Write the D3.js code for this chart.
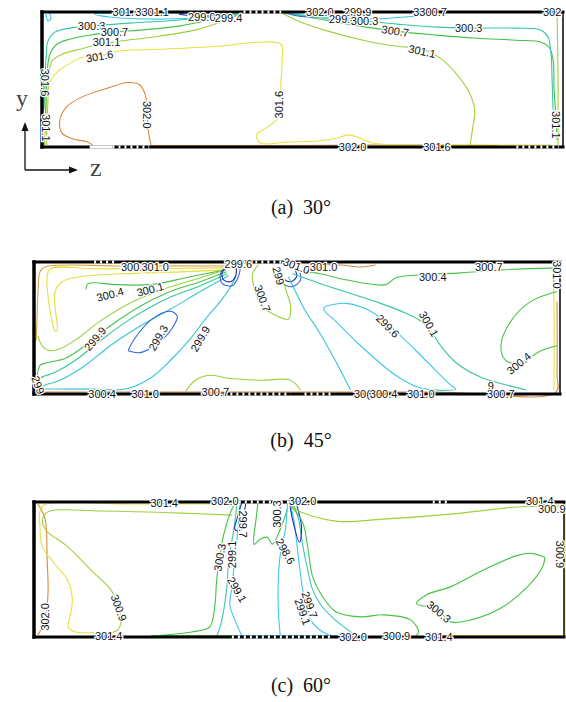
<!DOCTYPE html>
<html>
<head>
<meta charset="utf-8">
<script src="https://cdn.jsdelivr.net/npm/d3@7"></script>
<style>
  body { margin: 0; background: #fff; }
  svg { display: block; }
</style>
</head>
<body>
<svg id="chart" width="566" height="702"></svg>
<script>
// contour lines: [level, [[z, y], ...]]
const contoursA = [
  [302.0, [[53,0],[46,5],[31,8],[20,14],[18,27],[25,40],[41,50],[68,59],[86,64],[98,62],[104,52],[106,37],[107,17],[110,1]]],
  [302.0, [[110,1.5],[250,1.5],[330,2],[460,1.5]]],
  [301.6, [[5,2],[4,27],[5,52],[8,65],[16,75],[28,83],[41,89],[58,90],[76,95],[118,97],[178,100],[218,104],[241,102],[242,87],[241,67],[240,47],[238,29],[226,19],[216,12],[220,4],[248,5],[278,6],[298,9],[308,12],[320,9],[333,4],[358,2],[428,2],[513,2]]],
  [301.1, [[201,132],[183,125],[158,117],[118,110],[78,105],[58,102],[38,97],[20,92],[10,85],[7,72],[6,47],[5,19],[4,2]]],
  [301.1, [[242,133],[258,125],[288,115],[328,105],[358,100],[383,97],[403,87],[418,72],[430,55],[436,37],[434,19],[431,0]]],
  [301.1, [[519,133],[520,70],[520,2]]],
  [300.7, [[201,133],[178,128],[138,120],[98,116],[73,114],[48,111],[28,107],[15,102],[8,92],[5,72],[4,47],[3,17],[2,1]]],
  [300.7, [[242,134],[268,129],[308,122],[356,115],[398,111],[438,108],[478,106],[503,104],[511,99],[515,87],[516,57],[518,29],[519,7]]],
  [300.3, [[201,134],[178,131],[138,126],[88,123],[50,120],[28,118],[13,114],[6,105],[4,87],[3,62],[2,37]]],
  [300.3, [[242,134],[268,130],[298,126],[325,125],[358,122],[398,119],[430,118],[478,118],[503,116],[510,109],[513,92],[514,67],[515,37]]],
  [299.9, [[198,131],[158,128],[108,127],[68,129],[53,132],[78,133],[128,133],[188,133]]],
  [299.9, [[4,132],[6,125],[9,128],[7,134]]],
  [299.0, [[193,132],[158,130],[138,132],[158,134]]],
  [299.4, [[242,134],[258,130],[288,129],[268,132]]],
  [299.9, [[242,134],[278,129],[328,127],[378,130],[408,133]]]
];
const labelsA = [
  ["301.6",85,134,0],["3301.1",111,134,0],["299.0",161,129,0],["299.4",188,128,0],
  ["300.3",50,120,0],["300.7",73,114,0],["301.1",65,104,0],["301.6",58,90,-10],
  ["301.6",3,64,90],["301.1",4,19,90],["302.0",106,32,90],["301.6",239,42,-90],
  ["302.0",280,134,0],["299.9",318,134,0],["299.4",303,127,0],["300.3",325,125,0],
  ["300.7",356,115,8],["3300.7",391,134,0],["300.3",430,118,0],["301.1",383,95,12],
  ["302",514,134,0],["302.0",313,0,0],["301.6",398,0,0],["301.1",518,22,90]
];

const contoursB = [
  [301.4, [[191,130],[86,130],[11,129],[6,124],[4,104],[3,74],[2,54]]],
  [302.0, [[4,2],[200,2],[400,2],[521,2],[522,20],[522,94]]],
  [302.0, [[276,131],[306,131],[326,129],[341,131]]],
  [301.0, [[191,128],[66,127],[16,127],[13,119],[14,99],[17,79],[21,64],[23,64],[21,89],[21,104],[28,114],[46,119],[86,122],[146,124],[191,126]]],
  [301.0, [[518,129],[519,94],[519,4]]],
  [300.4, [[191,126],[156,119],[116,111],[83,111],[54,112],[52,106]]],
  [300.7, [[191,126],[166,118],[131,107],[99,94],[66,74],[43,56],[26,46],[16,44],[8,49],[4,59]]],
  [300.4, [[192,124],[166,114],[136,104],[106,89],[76,69],[51,49],[31,36],[14,32],[6,29],[3,14]]],
  [300.1, [[193,122],[166,110],[131,96],[96,76],[66,54],[41,34],[21,22],[6,16],[2,9]]],
  [299.9, [[194,120],[166,104],[136,86],[106,69],[76,49],[51,29],[26,14],[11,9],[6,6],[26,5],[56,5],[91,5],[116,16],[136,34],[156,56],[171,76],[186,94],[198,112],[201,119]]],
  [299.3, [[94,44],[99,54],[119,77],[136,84],[143,79],[138,67],[123,51],[106,42],[94,44]]],
  [299.3, [[192,129],[186,122],[188,112],[198,110],[204,119],[206,128]]],
  [298.6, [[194,129],[188,124],[189,116],[196,114],[201,119],[202,128]]],
  [299.3, [[244,128],[246,114],[258,109],[266,116],[264,128]]],
  [298.6, [[246,128],[248,118],[256,114],[262,119],[260,128]]],
  [300.7, [[224,131],[218,122],[221,104],[228,89],[241,80],[254,76],[256,89],[252,104],[247,119],[242,128]]],
  [300.7, [[151,2],[161,14],[176,19],[194,16],[226,14],[256,14],[266,4]]],
  [299.9, [[254,119],[261,104],[271,84],[284,64],[298,39],[311,14],[316,4]]],
  [299.6, [[291,89],[311,92],[336,84],[366,59],[391,34],[416,9],[421,5],[386,6],[361,19],[326,49],[301,74],[289,86],[291,89]]],
  [300.1, [[258,122],[286,112],[316,102],[346,92],[371,82],[386,74],[396,64],[406,49],[421,32],[446,17],[476,8],[491,4]]],
  [300.4, [[261,126],[286,122],[311,116],[351,111],[361,118],[386,121],[426,123],[466,126],[521,128]]],
  [300.4, [[522,104],[496,94],[476,74],[466,49],[471,34],[486,32],[506,44],[522,49]]]
];
const labelsB = [
  ["300.,",99,129,0],["301.0",121,129,0],["299.6",204,132,0],["301.0",262,130,20],
  ["299",244,120,75],["301.0",289,129,0],["300.4",76,101,-15],["300.1",116,106,-15],
  ["299.9",61,56,-50],["299.3",124,57,-60],["299.9",166,56,-60],["300.7",228,97,70],
  ["299.6",353,69,45],["300.1",394,71,60],["300.4",398,119,0],["300.7",454,129,0],
  ["301.0",522,121,90],["300.4",484,31,-40],["300.4",68,0,0],["301.0",111,0,0],
  ["300.7",181,2,0],["30(300.4",341,0,0],["301.0",386,0,0],["9",456,8,0],
  ["300.7",466,0,0],["299",4,9,70]
];

const contoursC = [
  [302.0, [[4,132],[11,117],[13,77],[14,47],[13,32],[9,12],[4,2]]],
  [301.4, [[190,132],[100,132],[10,131],[6,125],[6,107],[8,90],[21,72],[33,57],[38,37],[36,22],[34,10],[41,5],[66,4],[76,1]]],
  [300.9, [[196,121],[146,123],[66,125],[16,125],[9,119],[11,107],[33,90],[59,64],[76,47],[84,29],[86,14],[83,7],[71,3]]],
  [300.3, [[198,131],[194,122],[188,102],[184,79],[181,57],[179,30],[174,10],[156,5],[116,1]]],
  [299.7, [[201,132],[198,107],[193,77],[191,49],[188,27],[184,9],[181,1]]],
  [299.1, [[204,131],[202,107],[199,77],[196,49],[194,32],[199,17],[206,1]]],
  [298.6, [[206,134],[201,117],[199,107],[204,105],[208,122],[210,134]]],
  [300.3, [[222,134],[220,117],[218,92],[224,97],[231,99],[236,92],[244,107],[251,127]]],
  [299.7, [[256,134],[262,117],[266,92],[271,67],[276,47],[284,32],[296,19],[311,7],[318,1]]],
  [299.1, [[254,133],[258,112],[261,87],[264,62],[268,37],[274,17],[286,5],[296,1]]],
  [299.1, [[251,132],[249,107],[244,82],[242,57],[242,27],[244,1]]],
  [298.6, [[253,135],[256,117],[263,94],[265,109],[260,132]]],
  [300.3, [[253,132],[266,114],[271,90],[276,60],[286,40],[299,25],[323,20],[346,22],[373,17],[381,5],[378,1]]],
  [300.3, [[506,79],[493,83],[479,81],[446,67],[413,50],[389,42],[379,33],[389,30],[403,24],[413,15],[433,17],[463,29],[489,50],[504,70],[506,79]]],
  [300.9, [[255,133],[259,127],[299,115],[346,117],[413,122],[479,129],[526,130]]],
  [301.4, [[527,133],[527,70],[527,1]]],
  [301.4, [[386,1.5],[527,1.5]]],
  [300.3, [[116,1.5],[200,1.5]]],
  [299.1, [[200,1.5],[300,1.5]]]
];
const labelsC = [
  ["301.4",129,133,0],["302.0",189,135,0],["302.0",266,135,0],["301.4",501,135,0],
  ["300.9",513,127,0],["302.0",11,20,-90],["300.9",84,29,70],["300.3",184,79,-80],
  ["299.7",207,112,90],["299.1",196,82,-90],["299.1",201,47,60],["300.3",241,122,-90],
  ["298.6",249,85,60],["299.7",273,32,70],["299.1",266,25,70],["300.3",401,25,40],
  ["301.4",74,1,0],["302.0",316,0,0],["300.9",359,1,0],["301.4",401,0,0],["300.9",521,82,90]
];

// contour levels of each panel, lowest to highest, and the colour map they share
const levelsA = [299.0, 299.4, 299.9, 300.3, 300.7, 301.1, 301.6, 302.0];
const levelsB = [298.6, 299.3, 299.6, 299.9, 300.1, 300.4, 300.7, 301.0, 301.4, 302.0];
const levelsC = [298.6, 299.1, 299.7, 300.3, 300.9, 301.4, 302.0];
const paletteA = ["#1c2db5", "#2f62d0", "#3cc4e4", "#36c6a4", "#44c244", "#9fd03c", "#e6e03e", "#d8893c"];
const paletteB = ["#1c2db5", "#3468d2", "#40c8ec", "#36c6d2", "#38c69a", "#48c34a", "#98d13c", "#e2df40", "#e0a040", "#d8893c"];
const paletteC = ["#1c2db5", "#40c6ea", "#3cc6b8", "#44c244", "#9fd03c", "#e6e03e", "#d8893c"];

const captions = ["(a)\u00a0\u00a030°", "(b)\u00a0\u00a045°", "(c)\u00a0\u00a060°"];

// page layout
const panels = [
  {x0: 42, x1: 563, top: 12,  bottom: 147, cap: 214, lines: contoursA, labels: labelsA,
   levels: levelsA, palette: paletteA,
   topDash: [[203,241]], botDash: [[71,108],[478,521]], botGap: [[48,71]]},
  {x0: 34, x1: 560, top: 262, bottom: 394, cap: 447, lines: contoursB, labels: labelsB,
   levels: levelsB, palette: paletteB,
   topDash: [[60,80],[191,256]], botDash: [[196,256],[270,300]], botGap: []},
  {x0: 34, x1: 564, top: 502, bottom: 637, cap: 692, lines: contoursC, labels: labelsC,
   levels: levelsC, palette: paletteC,
   topDash: [[191,266],[395,410]], botDash: [[196,296]], botGap: []}
];

const svg = d3.select("#chart");

panels.forEach(function(p, i) {
  const x = d3.scaleLinear().domain([0, 525]).range([p.x0, p.x1]);
  const y = d3.scaleLinear().domain([0, 134]).range([p.bottom, p.top]);
  const color = d3.scaleOrdinal().domain(p.levels).range(p.palette);
  const line = d3.line().x(d => x(d[0])).y(d => y(d[1])).curve(d3.curveCatmullRom.alpha(0.5));

  const g = svg.append("g").attr("class", "panel");

  g.selectAll("path.contour")
    .data(p.lines)
    .join("path")
    .attr("class", "contour")
    .attr("d", d => line(d[1]))
    .attr("fill", "none")
    .attr("stroke", d => color(d[0]))
    .attr("stroke-width", 1.1);

  // frame
  const fr = g.append("g").attr("stroke", "#000").attr("stroke-linecap", "square");
  fr.append("line").attr("x1", p.x0).attr("x2", p.x1).attr("y1", p.top).attr("y2", p.top).attr("stroke-width", 3);
  fr.append("line").attr("x1", p.x0).attr("x2", p.x1).attr("y1", p.bottom).attr("y2", p.bottom).attr("stroke-width", 3);
  fr.append("line").attr("x1", p.x0).attr("x2", p.x0).attr("y1", p.top).attr("y2", p.bottom).attr("stroke-width", 3.5);
  fr.append("line").attr("x1", p.x1).attr("x2", p.x1).attr("y1", p.top).attr("y2", p.bottom).attr("stroke-width", 1.5);

  const dash = function(list, yy, arr) {
    g.selectAll(null).data(list).join("line")
      .attr("x1", d => x(d[0])).attr("x2", d => x(d[1]))
      .attr("y1", yy).attr("y2", yy)
      .attr("stroke", "#fff").attr("stroke-width", 3.2)
      .attr("stroke-dasharray", arr);
  };
  dash(p.topDash, p.top, "2,4");
  dash(p.botDash, p.bottom, "2,4");
  dash(p.botGap, p.bottom, null);

  g.selectAll("text.lab")
    .data(p.labels)
    .join("text")
    .attr("class", "lab")
    .attr("transform", d => "translate(" + x(d[1]) + "," + y(d[2]) + ") rotate(" + d[3] + ")")
    .attr("text-anchor", "middle")
    .attr("dy", "0.35em")
    .attr("font-family", "Liberation Sans, Arial, sans-serif")
    .attr("font-size", 11)
    .attr("fill", "#111")
    .attr("stroke", "#fff")
    .attr("stroke-width", 2.5)
    .attr("paint-order", "stroke")
    .text(d => d[0]);

  svg.append("text")
    .attr("x", 301).attr("y", p.cap)
    .attr("text-anchor", "middle")
    .attr("font-family", "Liberation Serif, Times New Roman, serif")
    .attr("font-size", 20)
    .attr("fill", "#111")
    .text(captions[i]);
});

// coordinate arrows
const ax = svg.append("g").attr("stroke", "#111").attr("stroke-width", 1.3);
ax.append("line").attr("x1", 25).attr("y1", 170).attr("x2", 25).attr("y2", 128);
ax.append("line").attr("x1", 25).attr("y1", 170).attr("x2", 72).attr("y2", 170);
svg.append("path").attr("d", "M25,122 L21.5,131 L28.5,131 Z").attr("fill", "#111");
svg.append("path").attr("d", "M78,170 L69,166.5 L69,173.5 Z").attr("fill", "#111");
svg.append("text").attr("x", 16).attr("y", 106).attr("font-family", "Liberation Serif, serif")
  .attr("font-size", 24).attr("fill", "#444").text("y");
svg.append("text").attr("x", 90).attr("y", 176).attr("font-family", "Liberation Serif, serif")
  .attr("font-size", 26).attr("fill", "#444").text("z");
</script>
</body>
</html>
